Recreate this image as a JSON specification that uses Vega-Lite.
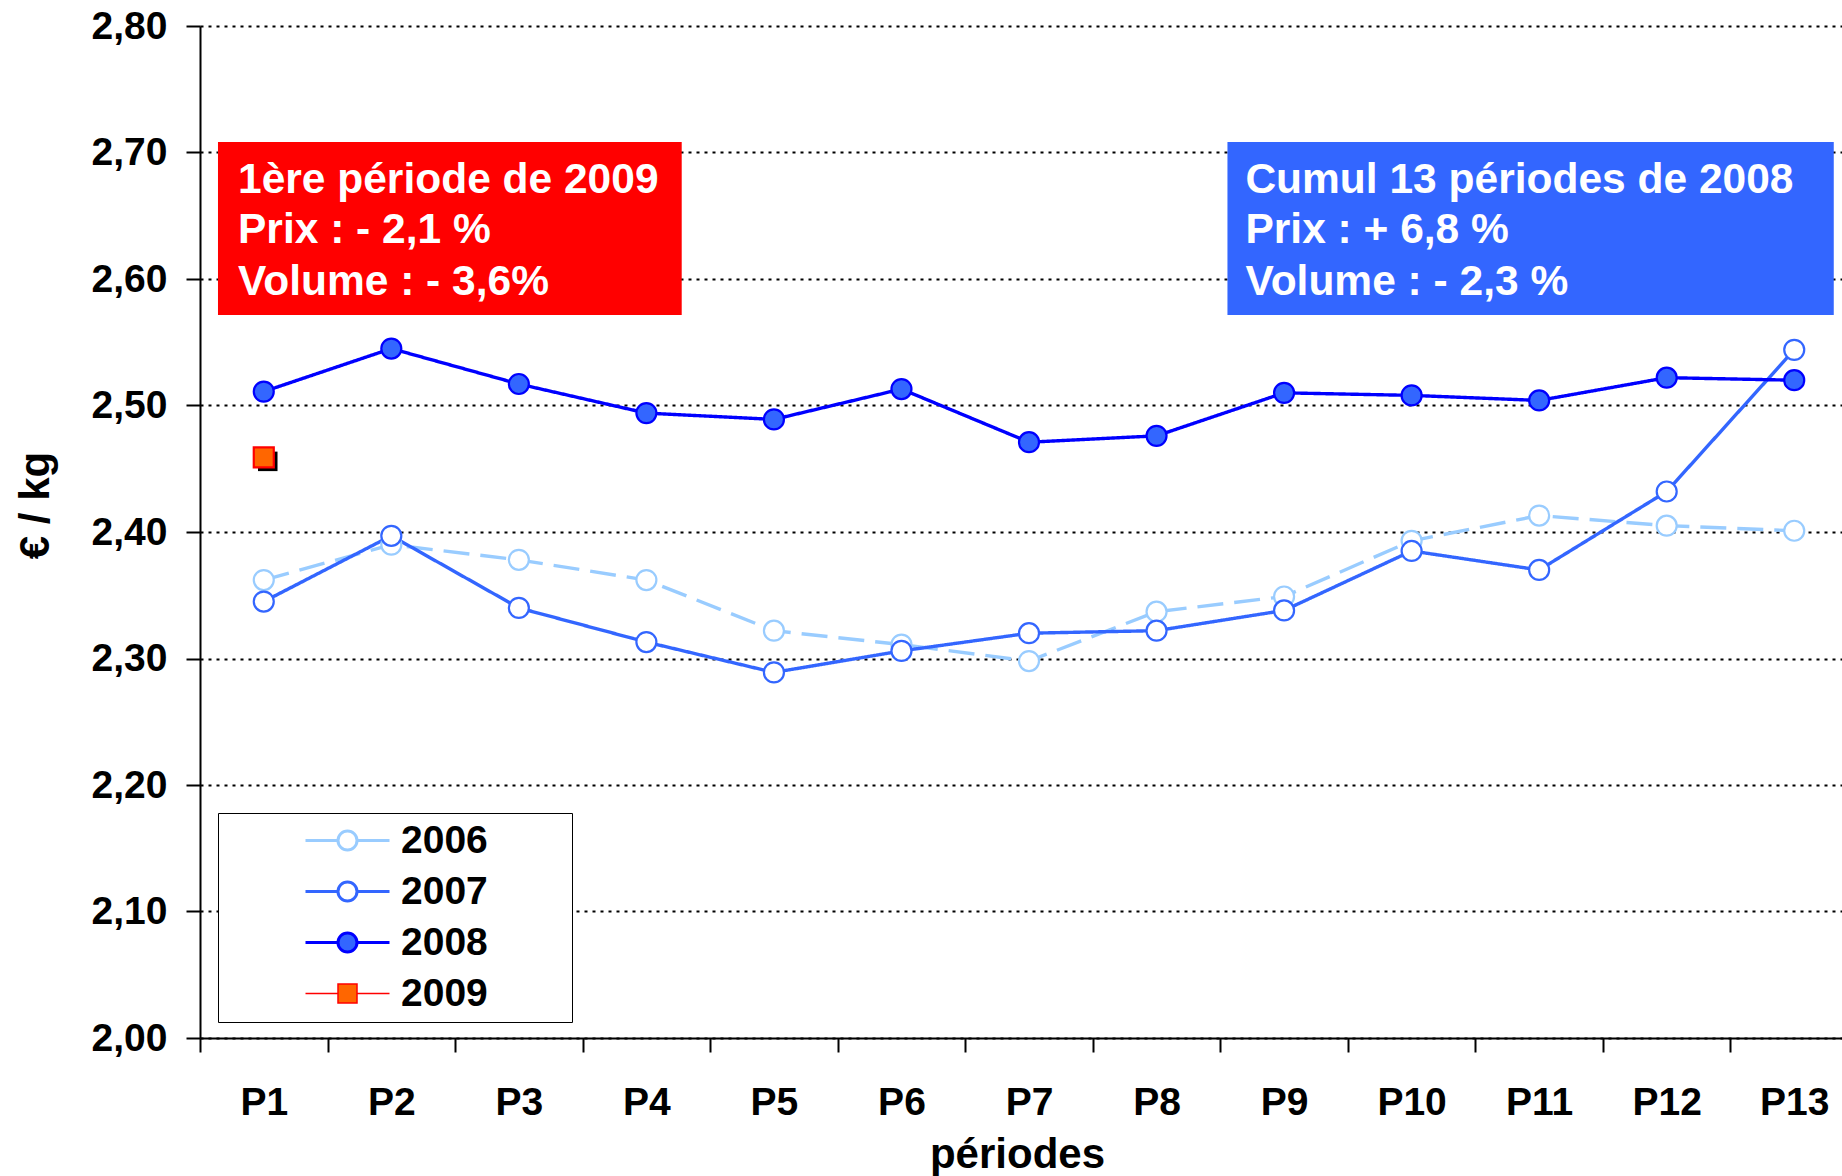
{
  "$schema": "https://vega.github.io/schema/vega-lite/v6.json",
  "width": 1642,
  "height": 1012,
  "autosize": {"type": "none"},
  "padding": {"left": 200, "top": 26, "right": 0, "bottom": 138},
  "background": "white",
  "config": {
    "font": "Liberation Sans",
    "view": {"stroke": null},
    "axis": {
      "domainColor": "black", "domainWidth": 2, "tickColor": "black", "tickWidth": 2,
      "labelColor": "black", "labelFont": "Liberation Sans", "labelFontSize": 39, "labelFontWeight": "bold",
      "titleColor": "black", "titleFont": "Liberation Sans", "titleFontSize": 42, "titleFontWeight": "bold"
    },
    "axisY": {
      "grid": true, "gridColor": "black", "gridDash": [3, 5], "gridWidth": 2,
      "tickSize": 14, "labelPadding": 19,
      "titleAngle": -90, "titleX": -165, "titleY": 479, "titleAlign": "center", "titleBaseline": "middle"
    },
    "axisX": {
      "grid": false, "labelAngle": 0, "tickSize": 14, "labelPadding": 62, "labelBaseline": "alphabetic",
      "titleX": 817, "titleY": 129, "titleBaseline": "alphabetic", "titleAlign": "center"
    }
  },
  "datasets": {
    "prices": [
      {"period": "P1", "year": "2006", "value": 2.362},
      {"period": "P2", "year": "2006", "value": 2.390},
      {"period": "P3", "year": "2006", "value": 2.378},
      {"period": "P4", "year": "2006", "value": 2.362},
      {"period": "P5", "year": "2006", "value": 2.322},
      {"period": "P6", "year": "2006", "value": 2.311},
      {"period": "P7", "year": "2006", "value": 2.298},
      {"period": "P8", "year": "2006", "value": 2.337},
      {"period": "P9", "year": "2006", "value": 2.349},
      {"period": "P10", "year": "2006", "value": 2.393},
      {"period": "P11", "year": "2006", "value": 2.413},
      {"period": "P12", "year": "2006", "value": 2.405},
      {"period": "P13", "year": "2006", "value": 2.401},
      {"period": "P1", "year": "2007", "value": 2.345},
      {"period": "P2", "year": "2007", "value": 2.397},
      {"period": "P3", "year": "2007", "value": 2.340},
      {"period": "P4", "year": "2007", "value": 2.313},
      {"period": "P5", "year": "2007", "value": 2.289},
      {"period": "P6", "year": "2007", "value": 2.306},
      {"period": "P7", "year": "2007", "value": 2.320},
      {"period": "P8", "year": "2007", "value": 2.322},
      {"period": "P9", "year": "2007", "value": 2.338},
      {"period": "P10", "year": "2007", "value": 2.385},
      {"period": "P11", "year": "2007", "value": 2.370},
      {"period": "P12", "year": "2007", "value": 2.432},
      {"period": "P13", "year": "2007", "value": 2.544},
      {"period": "P1", "year": "2008", "value": 2.511},
      {"period": "P2", "year": "2008", "value": 2.545},
      {"period": "P3", "year": "2008", "value": 2.517},
      {"period": "P4", "year": "2008", "value": 2.494},
      {"period": "P5", "year": "2008", "value": 2.489},
      {"period": "P6", "year": "2008", "value": 2.513},
      {"period": "P7", "year": "2008", "value": 2.471},
      {"period": "P8", "year": "2008", "value": 2.476},
      {"period": "P9", "year": "2008", "value": 2.510},
      {"period": "P10", "year": "2008", "value": 2.508},
      {"period": "P11", "year": "2008", "value": 2.504},
      {"period": "P12", "year": "2008", "value": 2.522},
      {"period": "P13", "year": "2008", "value": 2.520},
      {"period": "P1", "year": "2009", "value": 2.459}
    ],
    "boxes": [
      {"box": "2009", "x": 0.141, "x2": 3.777, "ylo": 2.5715, "yhi": 2.7083},
      {"box": "2008", "x": 8.056, "x2": 12.81, "ylo": 2.5715, "yhi": 2.7083}
    ],
    "notes": [
      {"x": 0.298, "y": 2.6783, "text": "1ère période de 2009"},
      {"x": 0.298, "y": 2.6387, "text": "Prix : - 2,1 %"},
      {"x": 0.298, "y": 2.5976, "text": "Volume : - 3,6%"},
      {"x": 8.197, "y": 2.6783, "text": "Cumul 13 périodes de 2008"},
      {"x": 8.197, "y": 2.6387, "text": "Prix : + 6,8 %"},
      {"x": 8.197, "y": 2.5976, "text": "Volume : - 2,3 %"}
    ]
  },
  "layer": [
    {
      "layer": [
        {
          "data": {"name": "boxes"},
          "mark": {"type": "rect"},
          "encoding": {
            "x": {"field": "x", "type": "quantitative", "scale": {"domain": [0, 13], "range": [0, 1658], "nice": false, "zero": false}, "axis": null},
            "x2": {"field": "x2"},
            "y": {"field": "ylo", "type": "quantitative", "scale": {"domain": [2, 2.8], "nice": false, "zero": false}, "title": "€ / kg"},
            "y2": {"field": "yhi"},
            "color": {"field": "box", "type": "nominal", "scale": {"domain": ["2009", "2008"], "range": ["#FF0000", "#3366FF"]}, "legend": null}
          }
        },
        {
          "data": {"name": "notes"},
          "mark": {"type": "text", "align": "left", "baseline": "middle", "color": "white", "fontSize": 42.5, "fontWeight": "bold", "font": "Liberation Sans"},
          "encoding": {
            "x": {"field": "x", "type": "quantitative", "scale": {"domain": [0, 13], "range": [0, 1658], "nice": false, "zero": false}, "axis": null},
            "y": {"field": "y", "type": "quantitative", "title": "€ / kg"},
            "text": {"field": "text"}
          }
        }
      ]
    },
    {
      "data": {"name": "prices"},
      "layer": [
        {
          "transform": [{"filter": "datum.year !== '2009'"}],
          "mark": {"type": "line", "strokeWidth": 3.4},
          "encoding": {
            "x": {"field": "period", "type": "nominal", "sort": ["P1","P2","P3","P4","P5","P6","P7","P8","P9","P10","P11","P12","P13"],
                  "scale": {"type": "band", "range": [0, 1658], "paddingInner": 0, "paddingOuter": 0},
                  "axis": {"title": "périodes", "tickBand": "extent", "encode": {"ticks": {"y": {"value": -13}}}}},
            "y": {"field": "value", "type": "quantitative", "title": "€ / kg",
                  "axis": {"values": [2.0, 2.1, 2.2, 2.3, 2.4, 2.5, 2.6, 2.7, 2.8], "labelExpr": "replace(format(datum.value, '.2f'), '.', ',')"}},
            "stroke": {"field": "year", "type": "nominal", "scale": {"domain": ["2006", "2007", "2008", "2009", "-"], "range": ["#99CCFF", "#3366FF", "#0000FF", "#FF0000", "#000000"]}, "legend": null},
            "strokeDash": {"field": "year", "type": "nominal", "scale": {"domain": ["2006", "2007", "2008", "2009", "-"], "range": [[26, 11], [1, 0], [1, 0], [1, 0], [1, 0]]}, "legend": null}
          }
        },
        {
          "transform": [{"filter": "datum.year === '2009'"}],
          "mark": {"type": "point", "shape": "square", "filled": true, "color": "black", "size": 380, "opacity": 1, "xOffset": 4, "yOffset": 4},
          "encoding": {
            "x": {"field": "period", "type": "nominal", "sort": ["P1","P2","P3","P4","P5","P6","P7","P8","P9","P10","P11","P12","P13"]},
            "y": {"field": "value", "type": "quantitative", "title": "€ / kg"}
          }
        },
        {
          "mark": {"type": "point", "filled": true, "size": 400, "strokeWidth": 2.2, "opacity": 1},
          "encoding": {
            "x": {"field": "period", "type": "nominal", "sort": ["P1","P2","P3","P4","P5","P6","P7","P8","P9","P10","P11","P12","P13"]},
            "y": {"field": "value", "type": "quantitative", "title": "€ / kg"},
            "stroke": {"field": "year", "type": "nominal", "legend": null},
            "shape": {"field": "year", "type": "nominal", "scale": {"domain": ["2006", "2007", "2008", "2009", "-"], "range": ["circle", "circle", "circle", "square", "circle"]}, "legend": null},
            "fill": {"field": "year", "type": "nominal",
              "scale": {"domain": ["2006", "2007", "2008", "2009"], "range": ["white", "white", "#3366FF", "#FF6600"]},
              "legend": {
                "orient": "none", "legendX": 18, "legendY": 787, "title": null, "direction": "vertical",
                "fillColor": "white", "strokeColor": "black", "padding": 8,
                "symbolSize": 1600, "symbolOffset": 102, "labelOffset": 34, "rowPadding": 11,
                "labelFontSize": 39, "labelFont": "Liberation Sans", "labelFontWeight": "bold", "labelColor": "black",
                "symbolOpacity": 1,
                "symbolType": {"expr": "datum.value === '2009' ? 'M-2.1,0H-0.475M0.475,0H2.1M-0.475,-0.475H0.475V0.475H-0.475ZM10.5,0h0' : 'M-2.1,0H-0.475M0.475,0H2.1M0.475,0A0.475,0.475 0 1,1 -0.475,0A0.475,0.475 0 1,1 0.475,0M10.5,0h0'"},
                "symbolStrokeWidth": {"expr": "datum.value === '2009' ? 1.5 : 3"},
                "symbolStrokeColor": {"expr": "datum.value === '2006' ? '#99CCFF' : datum.value === '2007' ? '#3366FF' : datum.value === '2008' ? '#0000FF' : '#FF0000'"}
              }
            }
          }
        }
      ]
    }
  ],
  "resolve": {"scale": {"x": "independent"}}
}
